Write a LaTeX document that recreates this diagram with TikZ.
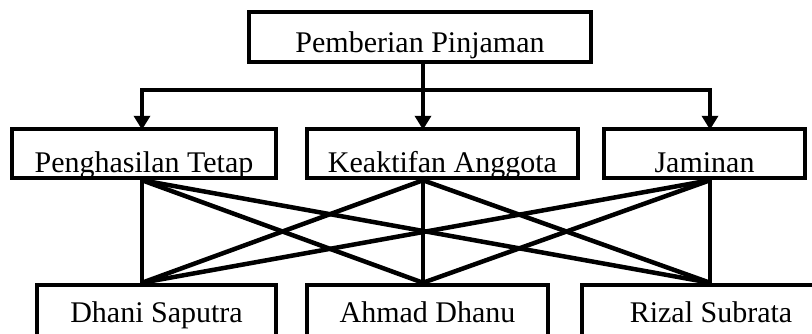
\documentclass[tikz,border=0pt]{standalone}
\usepackage{fontspec}
\setmainfont{Liberation Serif}
\usetikzlibrary{arrows.meta}
\begin{document}
\begin{tikzpicture}[x=1pt,y=-1pt,>={Triangle[length=14pt,width=16pt]}]
  \tikzstyle{box}=[draw, line width=4.5pt, inner sep=0pt, text depth=0pt, font=\fontsize{30}{36}\selectfont]
  \tikzstyle{link}=[line width=4.5pt]
  \useasboundingbox (0,0) rectangle (812,333);
  \clip (0,0) rectangle (812,333);

  % columns of the connectors and the branching line
  \coordinate (c1) at (142,0);
  \coordinate (c2) at (423,0);
  \coordinate (c3) at (710,0);
  \coordinate (bus) at (0,90);

  \node[box, minimum width=342pt, minimum height=50pt, text height=30pt] (pinjaman) at (420,37) {Pemberian Pinjaman};

  \node[box, minimum width=264pt, minimum height=49pt, text height=38pt] (pen) at (144,153.5) {Penghasilan Tetap};
  \node[box, minimum width=271pt, minimum height=49pt, text height=38pt] (kea) at (442.5,153.5) {Keaktifan Anggota};
  \node[box, minimum width=201pt, minimum height=49pt, text height=38pt] (jam) at (704.5,153.5) {Jaminan};

  \node[box, minimum width=239pt, minimum height=54pt, text height=20pt] (dha) at (156.5,312) {Dhani Saputra};
  \node[box, minimum width=241pt, minimum height=54pt, text height=20pt] (ahm) at (427.5,312) {Ahmad Dhanu};
  \node[box, minimum width=258pt, minimum height=54pt, text height=20pt] (riz) at (711,312) {Rizal Subrata};

  \draw[link,->] (pinjaman.south -| c2) -- ([yshift=-3pt]kea.north -| c2);
  \draw[link,->] (bus -| c2) -| ([yshift=-3pt]pen.north -| c1);
  \draw[link,->] (bus -| c2) -| ([yshift=-3pt]jam.north -| c3);

  \foreach \a/\ca in {pen/c1,kea/c2,jam/c3}
    \foreach \b/\cb in {dha/c1,ahm/c2,riz/c3}
      \draw[link] (\a.south -| \ca) -- (\b.north -| \cb);
\end{tikzpicture}
\end{document}
